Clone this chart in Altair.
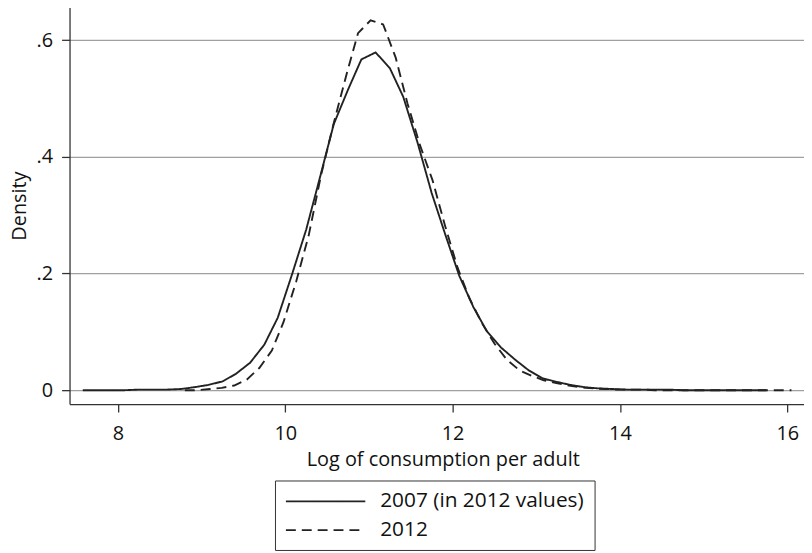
import altair as alt
import pandas as pd

# Kernel density of log consumption per adult
x_2007 = [7.58, 7.75, 7.91, 8.08, 8.25, 8.41, 8.58, 8.75, 8.91, 9.08,
          9.25, 9.41, 9.58, 9.75, 9.91, 10.08, 10.25, 10.41, 10.58, 10.75,
          10.91, 11.08, 11.25, 11.41, 11.58, 11.75, 11.91, 12.08, 12.25, 12.41,
          12.58, 12.75, 12.91, 13.08, 13.25, 13.41, 13.58, 13.75, 13.91, 14.08,
          14.25, 14.41, 14.58, 14.75, 14.91, 15.08, 15.25, 15.41, 15.58, 15.75]
dens_2007 = [0.000, 0.000, 0.000, 0.000, 0.001, 0.001, 0.001, 0.002, 0.005, 0.009,
             0.015, 0.028, 0.047, 0.078, 0.124, 0.198, 0.275, 0.362, 0.456, 0.515,
             0.567, 0.579, 0.552, 0.503, 0.425, 0.338, 0.268, 0.196, 0.142, 0.101,
             0.073, 0.052, 0.034, 0.020, 0.014, 0.009, 0.005, 0.003, 0.002, 0.001,
             0.001, 0.001, 0.001, 0.000, 0.000, 0.000, 0.000, 0.000, 0.000, 0.000]

x_2012 = [8.80, 8.95, 9.10, 9.24, 9.39, 9.54, 9.69, 9.84, 9.98, 10.13,
          10.28, 10.43, 10.58, 10.73, 10.87, 11.02, 11.17, 11.32, 11.46, 11.61,
          11.76, 11.91, 12.06, 12.20, 12.35, 12.50, 12.65, 12.80, 12.94, 13.09,
          13.24, 13.39, 13.54, 13.68, 13.83, 13.98, 14.13, 14.28, 14.42, 14.57,
          14.72, 14.87, 15.02, 15.16, 15.31, 15.46, 15.61, 15.76, 15.90, 16.05]
dens_2012 = [0.000, 0.000, 0.002, 0.004, 0.008, 0.018, 0.038, 0.068, 0.117, 0.186,
             0.265, 0.370, 0.458, 0.540, 0.612, 0.634, 0.627, 0.570, 0.492, 0.420,
             0.360, 0.282, 0.210, 0.158, 0.115, 0.080, 0.052, 0.034, 0.025, 0.017,
             0.012, 0.008, 0.005, 0.003, 0.002, 0.001, 0.001, 0.001, 0.000, 0.000,
             0.000, 0.000, 0.000, 0.000, 0.000, 0.000, 0.000, 0.000, 0.000, 0.000]

series_names = ["2007 (in 2012 values)", "2012"]
x_ticks = [8, 10, 12, 14, 16]
y_ticks = [0, 0.2, 0.4, 0.6]

df = pd.concat([
    pd.DataFrame({"x": x_2007, "d": dens_2007, "series": series_names[0]}),
    pd.DataFrame({"x": x_2012, "d": dens_2012, "series": series_names[1]}),
])

FONT = "Open Sans"
FS = 20

chart = alt.Chart(df).mark_line(strokeWidth=1.9, color="#222222").encode(
    x=alt.X("x:Q",
            scale=alt.Scale(domain=[7.422, 16.2], nice=False, zero=False),
            axis=alt.Axis(values=x_ticks, format="d", grid=False,
                          title="Log of consumption per adult",
                          titleX=376, titleY=62, titleBaseline="alphabetic",
                          labelBaseline="alphabetic", labelPadding=28,
                          tickSize=8)),
    y=alt.Y("d:Q",
            scale=alt.Scale(domain=[-0.0238, 0.6567], nice=False, zero=False),
            axis=alt.Axis(values=y_ticks, grid=True,
                          labelExpr="datum.value == 0 ? '0' : '.' + format(datum.value * 10, 'd')",
                          title="Density", titleX=-50, titleY=200,
                          titleBaseline="middle", titleAngle=-90,
                          labelPadding=9, tickSize=8)),
    strokeDash=alt.StrokeDash("series:N",
                              scale=alt.Scale(domain=series_names, range=[[1, 0], [10, 6]]),
                              legend=alt.Legend(title=None, orient="none",
                                                legendX=207, legendY=477,
                                                direction="vertical",
                                                symbolType="M-4,0H4", symbolSize=400,
                                                symbolStrokeWidth=1.8,
                                                symbolOffset=30,
                                                labelFontSize=21, labelFont=FONT,
                                                labelColor="#111111", labelLimit=500,
                                                labelExpr="datum.label + '\u2002'",
                                                strokeColor="#333333", fillColor="white",
                                                padding=10, rowPadding=8,
                                                labelOffset=44)),
    order=alt.Order("x:Q"),
).properties(
    width=740, height=400,
    padding={"left": 62, "top": -3, "right": 0, "bottom": 148},
    autosize=alt.AutoSizeParams(type="none"),
).configure_view(stroke=None).configure_axis(
    labelFont=FONT, titleFont=FONT, labelFontSize=FS, titleFontSize=FS,
    labelColor="#111111", titleColor="#111111", titleFontWeight="normal",
    domainColor="#333333", domainWidth=1.3, tickColor="#333333", tickWidth=1.3,
    gridColor="#a0a0a0", gridWidth=1.2, gridOpacity=1,
)

chart.save("out.html", embed_options={"renderer": "svg", "actions": False})
